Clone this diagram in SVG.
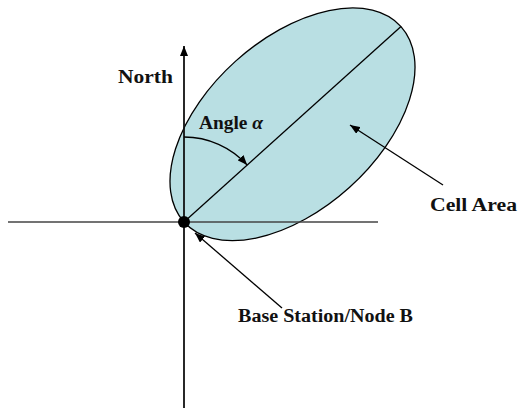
<svg xmlns="http://www.w3.org/2000/svg" width="522" height="410" viewBox="0 0 522 410">
<style>
.lbl{font-family:"Liberation Serif","DejaVu Serif",serif;font-weight:bold;font-size:18px;fill:#111}
.ln{stroke:#000;stroke-width:1.3;fill:none}
</style>
<defs>
<marker id="ah" viewBox="0 0 10 8" refX="10" refY="4" markerWidth="10" markerHeight="8" markerUnits="userSpaceOnUse" orient="auto">
<path d="M0,0 L10,4 L0,8 Z" fill="#000"/>
</marker>
</defs>
<rect width="522" height="410" fill="#fff"/>
<g id="cell-area">
<ellipse cx="292.5" cy="124.3" rx="146" ry="85" transform="rotate(-42 292.5 124.3)" fill="#b9dfe3" stroke="#000" stroke-width="1.3"/>
<line class="ln" x1="184" y1="222" x2="401" y2="26.6"/>
</g>
<g id="axes">
<line x1="8" y1="222" x2="378" y2="222" stroke="#444" stroke-width="1.6"/>
<line x1="184" y1="408" x2="184" y2="46" stroke="#111" stroke-width="1.8" marker-end="url(#ah)"/>
</g>
<g id="base-station">
<circle cx="184" cy="222" r="6" fill="#000"/>
</g>
<g id="connectors">
<path class="ln" d="M184,137 A85,85 0 0 1 247.2,165.1" marker-end="url(#ah)"/>
<line class="ln" x1="443" y1="185" x2="350" y2="125" marker-end="url(#ah)"/>
<line class="ln" x1="282" y1="308" x2="195" y2="233" marker-end="url(#ah)"/>
</g>
<g id="labels">
<text class="lbl" x="118" y="83" textLength="55" lengthAdjust="spacingAndGlyphs">North</text>
<text class="lbl" x="199" y="129" textLength="64" lengthAdjust="spacingAndGlyphs">Angle <tspan font-style="italic">α</tspan></text>
<text class="lbl" x="430" y="211" textLength="87" lengthAdjust="spacingAndGlyphs">Cell Area</text>
<text class="lbl" x="238" y="322" textLength="175" lengthAdjust="spacingAndGlyphs">Base Station/Node B</text>
</g>
</svg>
